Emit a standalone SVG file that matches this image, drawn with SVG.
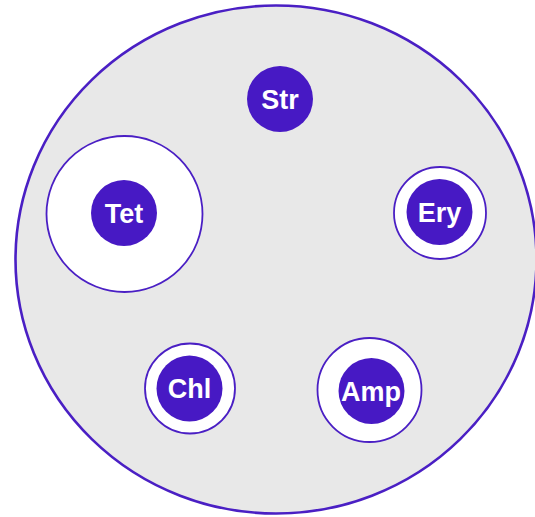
<svg xmlns="http://www.w3.org/2000/svg" width="535" height="517" viewBox="0 0 535 517">
  <style>
    .field { fill: #e8e8e8; stroke: #4a1fc4; stroke-width: 2.6; }
    .ring { fill: #ffffff; stroke: #4a1fc4; stroke-width: 1.8; }
    .core { fill: #4719c4; }
    .label { fill: #ffffff; font-family: "Liberation Sans", Arial, sans-serif; font-weight: bold; font-size: 27px; text-anchor: middle; }
  </style>
  <rect width="535" height="517" fill="#ffffff"/>
  <g id="plate">
    <ellipse class="field" cx="276" cy="259.5" rx="260.5" ry="254"/>
  </g>
  <g id="connectors"></g>
  <g id="Str">
    <circle class="core" cx="280" cy="99" r="33"/>
    <text class="label" x="280" y="109">Str</text>
  </g>
  <g id="Tet">
    <circle class="ring" cx="124.5" cy="214" r="78"/>
    <circle class="core" cx="124" cy="213" r="33"/>
    <text class="label" x="124" y="222.5">Tet</text>
  </g>
  <g id="Ery">
    <circle class="ring" cx="440" cy="213" r="46"/>
    <circle class="core" cx="439.5" cy="212" r="33"/>
    <text class="label" x="439.5" y="222">Ery</text>
  </g>
  <g id="Chl">
    <circle class="ring" cx="190" cy="388.5" r="45"/>
    <circle class="core" cx="189.5" cy="388.5" r="33"/>
    <text class="label" x="189.5" y="398">Chl</text>
  </g>
  <g id="Amp">
    <circle class="ring" cx="369.5" cy="390" r="52"/>
    <circle class="core" cx="371.5" cy="391" r="33"/>
    <text class="label" x="371" y="400.5">Amp</text>
  </g>
</svg>
